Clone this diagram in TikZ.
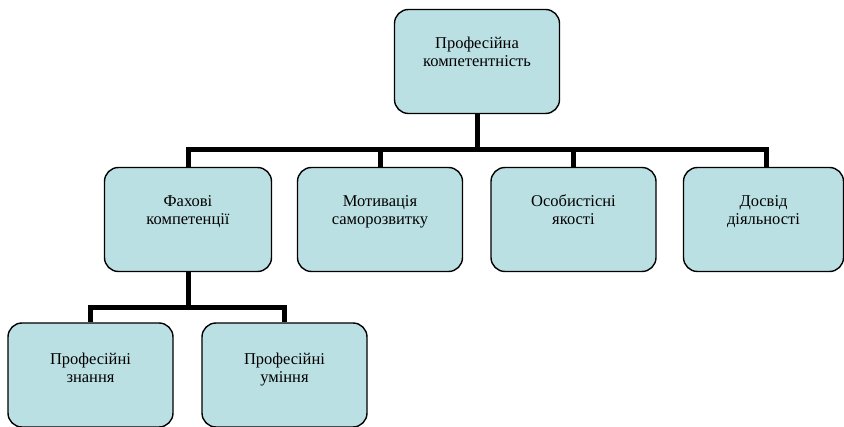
\documentclass[tikz,border=0pt]{standalone}
\usepackage{fontspec}
\setmainfont{Liberation Serif}
\begin{document}
\begin{tikzpicture}[x=1pt,y=-1pt,
  box/.style={draw=black, line width=1.4pt, fill=boxfill, rounded corners=14pt,
    inner sep=0pt, minimum width=#1, minimum height=104pt},
  box/.default=165pt,
  lbl/.style={align=center, inner sep=0pt, font=\fontsize{16.5}{18.5}\selectfont},
  conn/.style={line width=5pt, line join=miter, line cap=butt}]
\definecolor{boxfill}{RGB}{187,224,227}
\useasboundingbox (0,0) rectangle (844,427);

% boxes
\node[box] (top) at (477,61.5) {};
\node[box=167pt] (fah) at (188,219.5) {};
\node[box] (mot) at (380,219.5) {};
\node[box] (oso) at (573.5,219.5) {};
\node[box=160pt] (dos) at (763.5,219.5) {};
\node[box] (zna) at (90.5,375) {};
\node[box] (umi) at (284.5,375) {};

% junction points of the connector bars
\coordinate (j1) at (477,150);
\coordinate (j2) at (188,308);

% connectors
\draw[conn] (top.south) -- (j1);
\draw[conn] (j1) -| (fah.north);
\draw[conn] (j1) -| ([xshift=2.5pt]dos.north);
\draw[conn] (mot.north) -- (mot.north |- j1);
\draw[conn] (oso.north) -- (oso.north |- j1);
\draw[conn] (fah.south) -- (j2);
\draw[conn] (j2) -| (zna.north);
\draw[conn] (j2) -| (umi.north);

% texts
\node[lbl] (ttop) at ([yshift=7.5pt]top.center) {\strut Професійна\\\strut компетентність};
\node[lbl] (tfah) at ([yshift=7.5pt]fah.center) {\strut Фахові\\\strut компетенції};
\node[lbl] (tmot) at ([yshift=7.5pt]mot.center) {\strut Мотивація\\\strut саморозвитку};
\node[lbl] (toso) at ([yshift=7.5pt]oso.center) {\strut Особистісні\\\strut якості};
\node[lbl] (tdos) at ([yshift=7.5pt]dos.center) {\strut Досвід\\\strut діяльності};
\node[lbl] (tzna) at ([yshift=5pt]zna.center) {\strut Професійні\\\strut знання};
\node[lbl] (tumi) at ([yshift=5pt]umi.center) {\strut Професійні\\\strut уміння};
\end{tikzpicture}
\end{document}
